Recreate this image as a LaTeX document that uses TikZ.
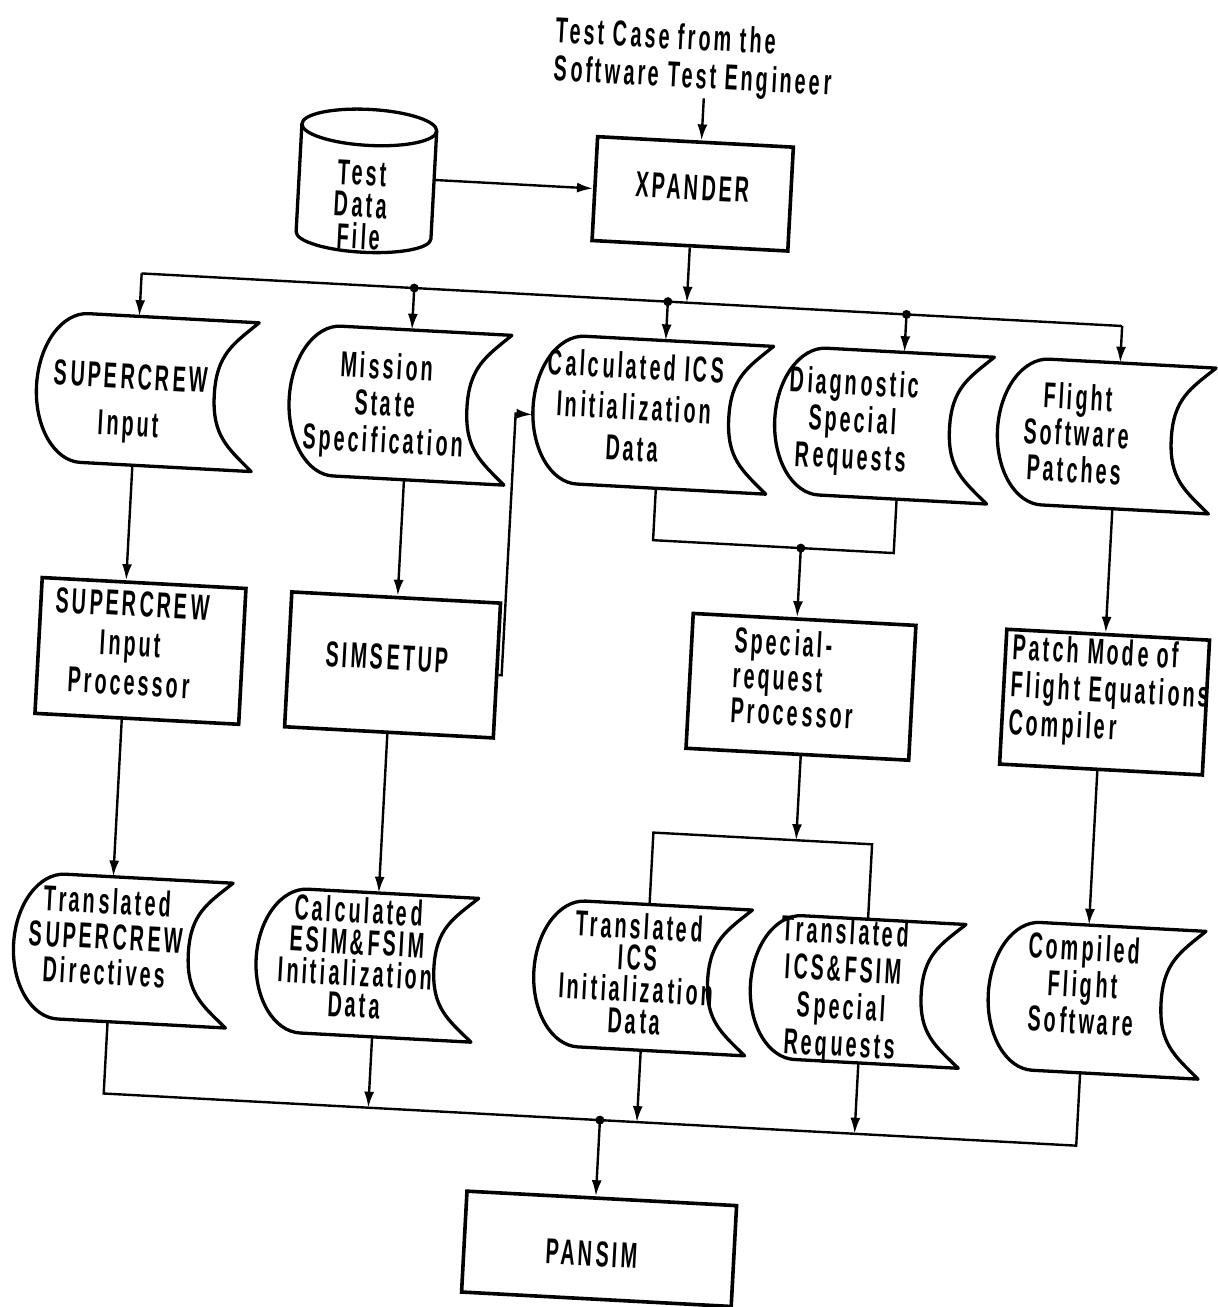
\documentclass[tikz,border=0pt]{standalone}
\usepackage{fontspec}
\usetikzlibrary{arrows.meta,calc}
\newfontfamily\lblfont{Liberation Sans}[FakeStretch=0.55,LetterSpace=8.6]

% bulge of the left side and depth of the right notch of a data-tape symbol
\newcommand\tpr{48}
\newcommand\tpd{41}
% data-tape symbol: name, x0, x1, y0, y1 (frame of the symbol)
\newcommand\tapeshape[5]{%
  \pgfmathsetmacro\tpW{#3-#2}%
  \pgfmathsetmacro\tpH{#5-#4}%
  \pgfmathsetmacro\tpX{(#2+#3)/2}%
  \pgfmathsetmacro\tpY{(#4+#5)/2}%
  \pgfmathsetmacro\tph{(#5-#4)/2}%
  \node[frame, minimum width=\tpW pt, minimum height=\tpH pt] (#1) at (\tpX,\tpY) {};
  \draw[tapeline] (#2+\tpr,#4) -- (#3,#4)
    .. controls (#3-0.6*\tpd,#4+0.3*\tph) and (#3-\tpd,\tpY-0.55*\tph) .. (#3-\tpd,\tpY)
    .. controls (#3-\tpd,\tpY+0.55*\tph) and (#3-0.6*\tpd,#5-0.3*\tph) .. (#3,#5)
    -- (#2+\tpr,#5)
    .. controls (#2+0.448*\tpr,#5) and (#2,\tpY+0.552*\tph) .. (#2,\tpY)
    .. controls (#2,\tpY-0.552*\tph) and (#2+0.448*\tpr,#4) .. (#2+\tpr,#4) -- cycle;
}

\begin{document}
\begin{tikzpicture}[x=1pt,y=-1pt,
  lbl/.style={font=\lblfont\bfseries\fontsize{36}{#1}\selectfont, inner sep=0pt, align=center},
  lbl/.default=37,
  frame/.style={rectangle, draw=none, inner sep=0pt},
  box/.style={rectangle, draw, line width=3.6pt, inner sep=0pt},
  tapeline/.style={line width=3.3pt, line join=round},
  wire/.style={line width=2.4pt},
  arr/.style={wire, -{Latex[length=16pt,width=10pt]}},
  dot/.style={radius=4.5pt}
]
\fill[white] (0,0) rectangle (1218,1307);
\useasboundingbox (0,0) rectangle (1218,1307);

\begin{scope}[rotate around={-3.07:(609,653)}, transform shape]

% ---------- input side ----------
\node[lbl=38, align=left, anchor=west] (src) at (523,56) {Test Case from the\\Software Test Engineer};
\coordinate (srcin) at (674,94);

\node[frame, minimum width=135pt, minimum height=143pt] (cyl) at (341.5,194.5) {};
\draw[tapeline] (274,141) -- (274,249)
  .. controls (274,258.4) and (304.2,266) .. (341.5,266)
  .. controls (378.8,266) and (409,258.4) .. (409,249) -- (409,141);
\draw[tapeline] (341.5,141) ellipse [x radius=67.5pt, y radius=18pt];
\node[lbl=32] (cyl-t) at (337,219) {Test\\Data\\File};

\node[box, minimum width=196pt, minimum height=104pt] (xp) at (668,190) {};
\node[lbl] (xp-t) at (668,183.5) {XPANDER};

% ---------- first row of data ----------
\tapeshape{sci}{23}{242}{342}{491}
\node[lbl=47] (sci-t) at (117,429.5) {SUPERCREW\\Input};
\tapeshape{msi}{276}{495}{341}{491}
\node[lbl=37] (msi-t) at (372,419) {Mission\\State\\Specification};
\tapeshape{cic}{520}{757}{338}{486}
\node[lbl=41] (cic-t) at (621,406) {Calculated ICS\\Initialization\\Data};
\tapeshape{dsr}{762}{978}{337}{484}
\node[lbl=37] (dsr-t) at (840,410) {Diagnostic\\Special\\Requests};
\tapeshape{fsp}{985}{1200}{336}{482}
\node[lbl=36.5] (fsp-t) at (1064,408.5) {Flight\\Software\\Patches};

% ---------- processors ----------
\node[box, minimum width=204pt, minimum height=136pt] (scp) at (141,676) {};
\node[lbl=39.5] (scp-t) at (131,669) {SUPERCREW\\Input\\Processor};
\node[box, minimum width=209pt, minimum height=135pt] (ssu) at (393.5,676.5) {};
\node[lbl] (ssu-t) at (388,669) {SIMSETUP};
\node[box, minimum width=223pt, minimum height=135pt] (srp) at (802.5,676.5) {};
\node[lbl=35, align=left, anchor=west] (srp-t) at (734,668) {Special-\\request\\Processor};
\node[box, minimum width=203pt, minimum height=135pt] (pmc) at (1106.5,675.5) {};
\node[lbl=37.5, align=left, anchor=west] (pmc-t) at (1012,666) {Patch Mode of\\Flight Equations\\Compiler};

% ---------- second row of data ----------
\tapeshape{tsd}{30}{246}{903}{1048}
\node[lbl=35.5] (tsd-t) at (122,963) {Translated\\SUPERCREW\\Directives};
\tapeshape{cef}{273}{492}{905}{1049}
\node[lbl=31.5] (cef-t) at (373,970.5) {Calculated\\ESIM\&FSIM\\Initialization\\Data};
\tapeshape{tid}{551}{766}{902}{1048}
\node[lbl=31.5] (tid-t) at (654,971.5) {Translated\\ICS\\Initialization\\Data};
\tapeshape{tfr}{768}{980}{905}{1049}
\node[lbl=37.5] (tfr-t) at (860,978) {Translated\\ICS\&FSIM\\Special\\Requests};
\tapeshape{cfs}{1006}{1220}{899}{1047}
\node[lbl=36.5] (cfs-t) at (1100,958.5) {Compiled\\Flight\\Software};

% ---------- simulator ----------
\node[box, minimum width=270pt, minimum height=101pt] (pan) at (631,1248.5) {};
\node[lbl] (pan-t) at (624,1254) {PANSIM};

% ---------- routing points ----------
\coordinate (bxp) at (668,299);
\coordinate (bL) at (122,299);
\coordinate (bR) at (1104,299);
\coordinate (j2) at (395,299);
\coordinate (j3) at (649,299);
\coordinate (j4) at (888,299);
\coordinate (v1) at (123,560);
\coordinate (v2) at (395,560);
\coordinate (v3) at (1104,560);
\coordinate (v4) at (126,820);
\coordinate (v5) at (392,820);
\coordinate (v6) at (1103,820);
\coordinate (s1) at (503,681);
\coordinate (s2) at (503,419);
\coordinate (m1) at (647,538);
\coordinate (m2) at (888,538);
\coordinate (m0) at (795,538);
\coordinate (k0) at (806,830);
\coordinate (k1) at (663,830);
\coordinate (k2) at (882,830);
\coordinate (gL) at (128,1120);
\coordinate (gR) at (1102,1120);
\coordinate (g0) at (625,1120);
\coordinate (g1) at (393,1120);
\coordinate (g2) at (662,1120);
\coordinate (g3) at (880,1120);

% ---------- connectors ----------
\draw[arr] (srcin) -- ($(xp.north west)!(srcin)!(xp.north east)$);
\draw[arr] ($(cyl.north east)!(xp.west)!(cyl.south east)$) -- (xp.west);
\draw[arr] (xp.south) -- (bxp);

\draw[wire] (bL) -- (bR);
\draw[arr] (bL) -- ($(sci.north west)!(bL)!(sci.north east)$);
\draw[arr] (j2) -- ($(msi.north west)!(j2)!(msi.north east)$);
\draw[arr] (j3) -- ($(cic.north west)!(j3)!(cic.north east)$);
\draw[arr] (j4) -- ($(dsr.north west)!(j4)!(dsr.north east)$);
\draw[arr] (bR) -- ($(fsp.north west)!(bR)!(fsp.north east)$);
\fill[dot] (j2) circle;
\fill[dot] (j3) circle;
\fill[dot] (j4) circle;

\draw[arr] ($(sci.south west)!(v1)!(sci.south east)$) -- ($(scp.north west)!(v1)!(scp.north east)$);
\draw[arr] ($(msi.south west)!(v2)!(msi.south east)$) -- ($(ssu.north west)!(v2)!(ssu.north east)$);
\draw[arr] ($(fsp.south west)!(v3)!(fsp.south east)$) -- ($(pmc.north west)!(v3)!(pmc.north east)$);

\draw[arr] ($(ssu.north east)!(s1)!(ssu.south east)$) -- (s1) -- (s2)
  -- ($(cic.north west)!(s2)!(cic.south west)$);

\draw[wire] ($(cic.south west)!(m1)!(cic.south east)$) -- (m1) -- (m2)
  -- ($(dsr.south west)!(m2)!(dsr.south east)$);
\fill[dot] (m0) circle;
\draw[arr] (m0) -- ($(srp.north west)!(m0)!(srp.north east)$);

\draw[arr] ($(srp.south west)!(k0)!(srp.south east)$) -- (k0);
\draw[wire] ($(tid.north west)!(k1)!(tid.north east)$) -- (k1) -- (k2)
  -- ($(tfr.north west)!(k2)!(tfr.north east)$);

\draw[arr] ($(scp.south west)!(v4)!(scp.south east)$) -- ($(tsd.north west)!(v4)!(tsd.north east)$);
\draw[arr] ($(ssu.south west)!(v5)!(ssu.south east)$) -- ($(cef.north west)!(v5)!(cef.north east)$);
\draw[arr] ($(pmc.south west)!(v6)!(pmc.south east)$) -- ($(cfs.north west)!(v6)!(cfs.north east)$);

\draw[wire] ($(tsd.south west)!(gL)!(tsd.south east)$) -- (gL) -- (gR)
  -- ($(cfs.south west)!(gR)!(cfs.south east)$);
\draw[arr] ($(cef.south west)!(g1)!(cef.south east)$) -- (g1);
\draw[arr] ($(tid.south west)!(g2)!(tid.south east)$) -- (g2);
\draw[arr] ($(tfr.south west)!(g3)!(tfr.south east)$) -- (g3);
\fill[dot] (g0) circle;
\draw[arr] (g0) -- ($(pan.north west)!(g0)!(pan.north east)$);

\end{scope}
\end{tikzpicture}
\end{document}
